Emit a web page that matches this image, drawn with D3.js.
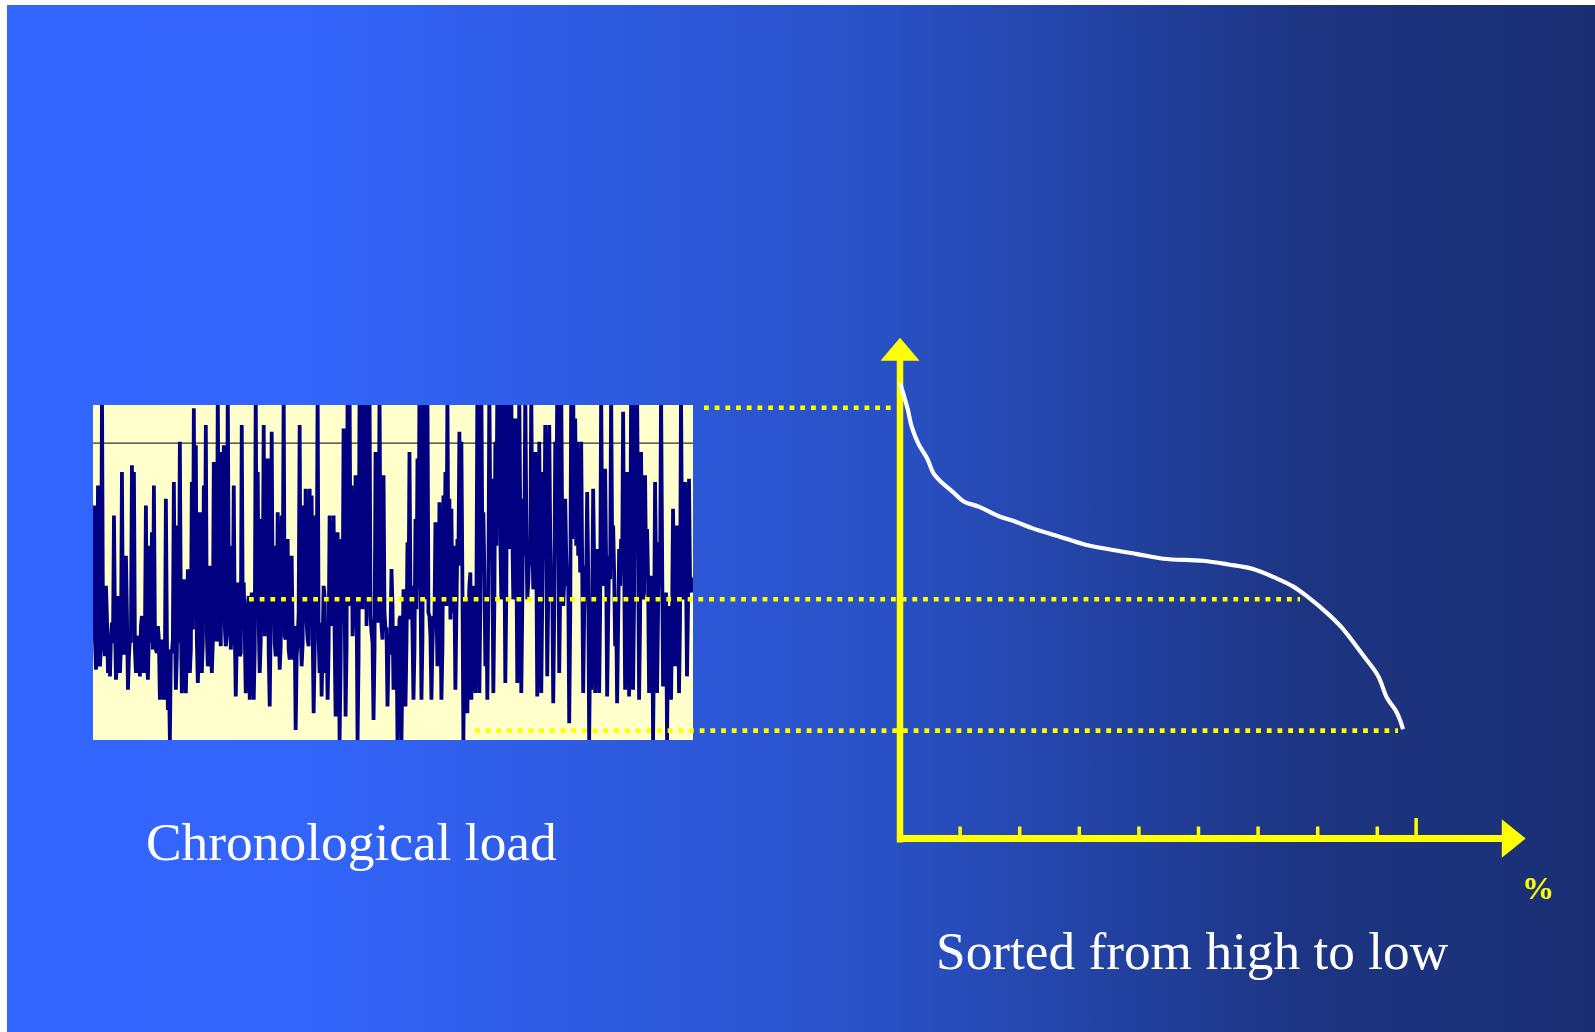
<!DOCTYPE html>
<html>
<head>
<meta charset="utf-8">
<script src="https://cdn.jsdelivr.net/npm/d3@7"></script>
<style>
  html, body { margin: 0; padding: 0; background: #ffffff; }
  svg { display: block; }
</style>
</head>
<body>
<script>
// ---------------- DATA ----------------
// Chronological load (arbitrary units, 0 = chart bottom, 100 = chart top; >100 clipped)
// Peaks / troughs
const chronoPeaks = [
  70,21,76,22,105,30,46,20,19,35, 67,18,43,20,80,26,55,15,30,82,
  80,20,30,19,37,20,70,18,58,62, 76,27,34,12,30,12,72,9,0,26,
  77,15,64,89,14,48,14,51,20,77, 99,88,17,68,20,76,94,22,52,20,
  83,30,105,35,86,88,28,105,58,32, 76,13,47,25,94,47,14,40,12,44,
  12,105,80,20,66,94,57,84,10,92, 58,25,68,21,67,105,30,60,24,55,
  24,3,30,94,22,70,75,30,75,73, 8,67,105,20,13,46,20,12,67,65,
  67,7,62,0,60,93,7,105,105,76, 39,79,0,105,105,95,105,81,105,32,
  6,86,50,105,34,79,33,10,26,51, 15,28,0,36,0,45,10,59,86,46,
  12,66,84,105,12,105,96,105,37,12, 37,65,22,71,12,73,80,105,72,69,
  58,15,60,92,89,0,30,8,46,12, 42,14,105,14,105,68,22,12,105,78,
  14,89,105,105,42,105,17,105,84,105, 42,96,17,105,14,72,105,42,57,105,
  45,86,13,89,14,80,94,19,94,42, 11,89,105,20,105,40,72,46,5,105,
  105,96,89,70,89,14,52,74,0,15, 75,14,57,14,105,50,81,13,55,105,
  64,28,11,57,60,98,15,80,13,105, 15,105,105,12,86,42,79,63,14,49,
  0,77,14,59,105,16,42,0,32,12, 69,22,64,14,105,42,77,19,78,48
];
// Values in the dense central band between the peaks
const chronoBand = [
  30,26,34,28,32,25,36,27,31,29, 35,24,33,28,30,26,37,25,29,33,
  27,31,26,34,28,30,25,32,29,27, 33,26,30,24,28,22,31,20,27,30,
  34,25,29,36,26,31,28,35,27,33, 38,30,26,34,29,37,32,27,35,29,
  36,30,42,28,38,34,31,40,27,35, 33,29,41,26,37,32,28,43,30,36,
  27,39,34,29,44,31,38,26,35,40, 29,33,37,28,42,31,36,27,39,30,
  34,25,38,32,29,41,35,28,37,33, 26,40,30,35,28,43,31,27,38,34,
  32,26,38,22,35,44,28,40,46,31, 36,42,24,45,39,48,34,41,37,29,
  27,44,35,47,30,38,33,26,32,40, 28,34,22,37,24,41,29,36,44,33,
  27,39,45,50,30,47,42,38,31,28, 35,42,30,39,27,44,40,46,36,38,
  45,38,52,60,48,30,42,36,50,40, 46,38,62,41,58,50,39,42,65,55,
  40,58,66,60,48,63,44,68,57,62, 46,60,42,64,40,55,67,47,52,61,
  48,58,40,56,42,54,62,44,60,47, 38,58,64,45,62,47,55,50,36,60,
  62,58,55,50,52,38,48,50,30,40, 52,38,48,40,60,46,52,36,48,58,
  50,40,34,46,50,56,40,52,38,60, 42,62,58,36,52,44,50,48,38,45,
  30,50,38,46,58,40,44,30,40,36, 48,38,46,36,56,44,50,40,48,44
];
const thresholdLoad = 88.6;

// Load-duration curve (sorted from high to low)
const sortedPct  = [0,0.57,1.29,2.0,3.1,4.6,5.65,7.1,8.9,10.7,13.3,16.6,19.5,22.4,26.8,31.1,35.5,39.8,44.2,50.8,55.1,59.1,63.1,66.0,68.2,71.9,74.1,77.7,80.2,81.7,83.2,83.9,84.4];
const sortedLoad = [106.6,103.3,98.8,93.3,88.4,83.9,79.5,76.7,74.0,71.2,69.6,66.8,65.1,63.1,60.7,58.3,56.8,55.5,54.1,53.5,52.4,51.1,48.3,45.8,43.0,37.5,33.6,25.3,19.2,12.6,8.7,6.0,3.2];

// Horizontal reference levels (max, middle, min)
const levelLoads = [99.2, 42, 2.8];

// x-axis ticks of the sorted chart (%)
const pctTicks = [10,20,30,40,50,60,70,80];
const pctMarker = 86.6;

const labelLeft = "Chronological load";
const labelRight = "Sorted from high to low";
const labelPct = "%";

// Full chronological series: peaks interleaved with the band values
const chronoLoad = d3.merge(chronoPeaks.map((v, i) => [v, chronoBand[i]]));

// ---------------- LAYOUT ----------------
const W = 1595, H = 1032;
const box = {x0: 93, x1: 693, y0: 405, y1: 740};
const axisX = 900, axisY = 838.5;
const dotStart = [704, 249, 475];
const dotEnd = [891, 1300, 1398];

const svg = d3.select("body").append("svg").attr("width", W).attr("height", H);
const defs = svg.append("defs");

const grad = defs.append("linearGradient").attr("id", "bg").attr("x1", "0").attr("x2", "1").attr("y1", "0").attr("y2", "0");
[[0, "#3366FF"], [0.18, "#3365FC"], [0.55, "#2951C6"], [0.82, "#1D3482"], [1, "#1A2F73"]]
  .forEach(([o, c]) => grad.append("stop").attr("offset", o).attr("stop-color", c));

svg.append("rect").attr("x", 7).attr("y", 5).attr("width", W - 7).attr("height", H - 5).attr("fill", "url(#bg)");

// ---------- Chronological chart ----------
defs.append("clipPath").attr("id", "clipBox").append("rect")
  .attr("x", box.x0).attr("y", box.y0).attr("width", box.x1 - box.x0).attr("height", box.y1 - box.y0);

const xT = d3.scaleLinear().domain([0, chronoLoad.length - 1]).range([box.x0 + 1, box.x1 - 1]);
const yL = d3.scaleLinear().domain([0, 100]).range([box.y1, box.y0]);

svg.append("rect").attr("x", box.x0).attr("y", box.y0).attr("width", box.x1 - box.x0).attr("height", box.y1 - box.y0)
  .attr("fill", "#FFFFCC");

const gC = svg.append("g").attr("clip-path", "url(#clipBox)");
gC.append("line").attr("x1", box.x0).attr("x2", box.x1).attr("y1", yL(thresholdLoad)).attr("y2", yL(thresholdLoad))
  .attr("stroke", "#333322").attr("stroke-width", 1.3);
gC.append("path").datum(chronoLoad)
  .attr("d", d3.line().x((d, i) => xT(i)).y(d => yL(d)))
  .attr("fill", "none").attr("stroke", "#000080").attr("stroke-width", 3.8).attr("stroke-linejoin", "miter").attr("stroke-miterlimit", 1.5);

// ---------- Sorted chart ----------
const xP = d3.scaleLinear().domain([0, 100]).range([axisX, axisX + 596]);
const yS = yL;

// axes
const yellow = "#FFFF00";
svg.append("line").attr("x1", axisX).attr("x2", axisX).attr("y1", axisY + 4).attr("y2", 358)
  .attr("stroke", yellow).attr("stroke-width", 6.5);
svg.append("path").attr("d", d3.line()([[axisX, 337.8], [axisX - 19.5, 360.7], [axisX + 19.5, 360.7]]) + "Z").attr("fill", yellow);
svg.append("line").attr("x1", axisX - 3).attr("x2", 1503).attr("y1", axisY).attr("y2", axisY)
  .attr("stroke", yellow).attr("stroke-width", 7);
svg.append("path").attr("d", d3.line()([[1525.7, axisY], [1501.8, axisY - 19.3], [1501.8, axisY + 19.3]]) + "Z").attr("fill", yellow);

const ax = d3.axisBottom(xP).tickValues(pctTicks).tickSize(-12).tickFormat("");
const gAx = svg.append("g").attr("transform", `translate(0,${axisY})`).call(ax);
gAx.select(".domain").remove();
gAx.selectAll(".tick line").attr("stroke", yellow).attr("stroke-width", 3.5);
svg.append("line").attr("x1", xP(pctMarker)).attr("x2", xP(pctMarker)).attr("y1", axisY).attr("y2", axisY - 20.5)
  .attr("stroke", yellow).attr("stroke-width", 3.5);

// duration curve
svg.append("path").datum(sortedPct.map((p, i) => [p, sortedLoad[i]]))
  .attr("d", d3.line().x(d => xP(d[0])).y(d => yS(d[1])).curve(d3.curveCatmullRom))
  .attr("fill", "none").attr("stroke", "#FFFFFF").attr("stroke-width", 4.2);

// dotted level lines
levelLoads.forEach((v, i) => {
  svg.append("line").attr("x1", dotStart[i]).attr("x2", dotEnd[i]).attr("y1", yL(v)).attr("y2", yL(v))
    .attr("stroke", yellow).attr("stroke-width", 4.6).attr("stroke-dasharray", "4.8 5.9");
});

// texts
const serif = "'Liberation Serif', 'Times New Roman', Times, serif";
svg.append("text").attr("x", 146).attr("y", 860).text(labelLeft)
  .attr("font-family", serif).attr("font-size", 53.4).attr("fill", "#FFFFFF");
svg.append("text").attr("x", 936).attr("y", 969).text(labelRight)
  .attr("font-family", serif).attr("font-size", 53.3).attr("fill", "#FFFFFF");
svg.append("text").attr("x", 1538).attr("y", 899).attr("text-anchor", "middle").text(labelPct)
  .attr("font-family", serif).attr("font-size", 32).attr("font-weight", "bold").attr("fill", yellow);
</script>
</body>
</html>
